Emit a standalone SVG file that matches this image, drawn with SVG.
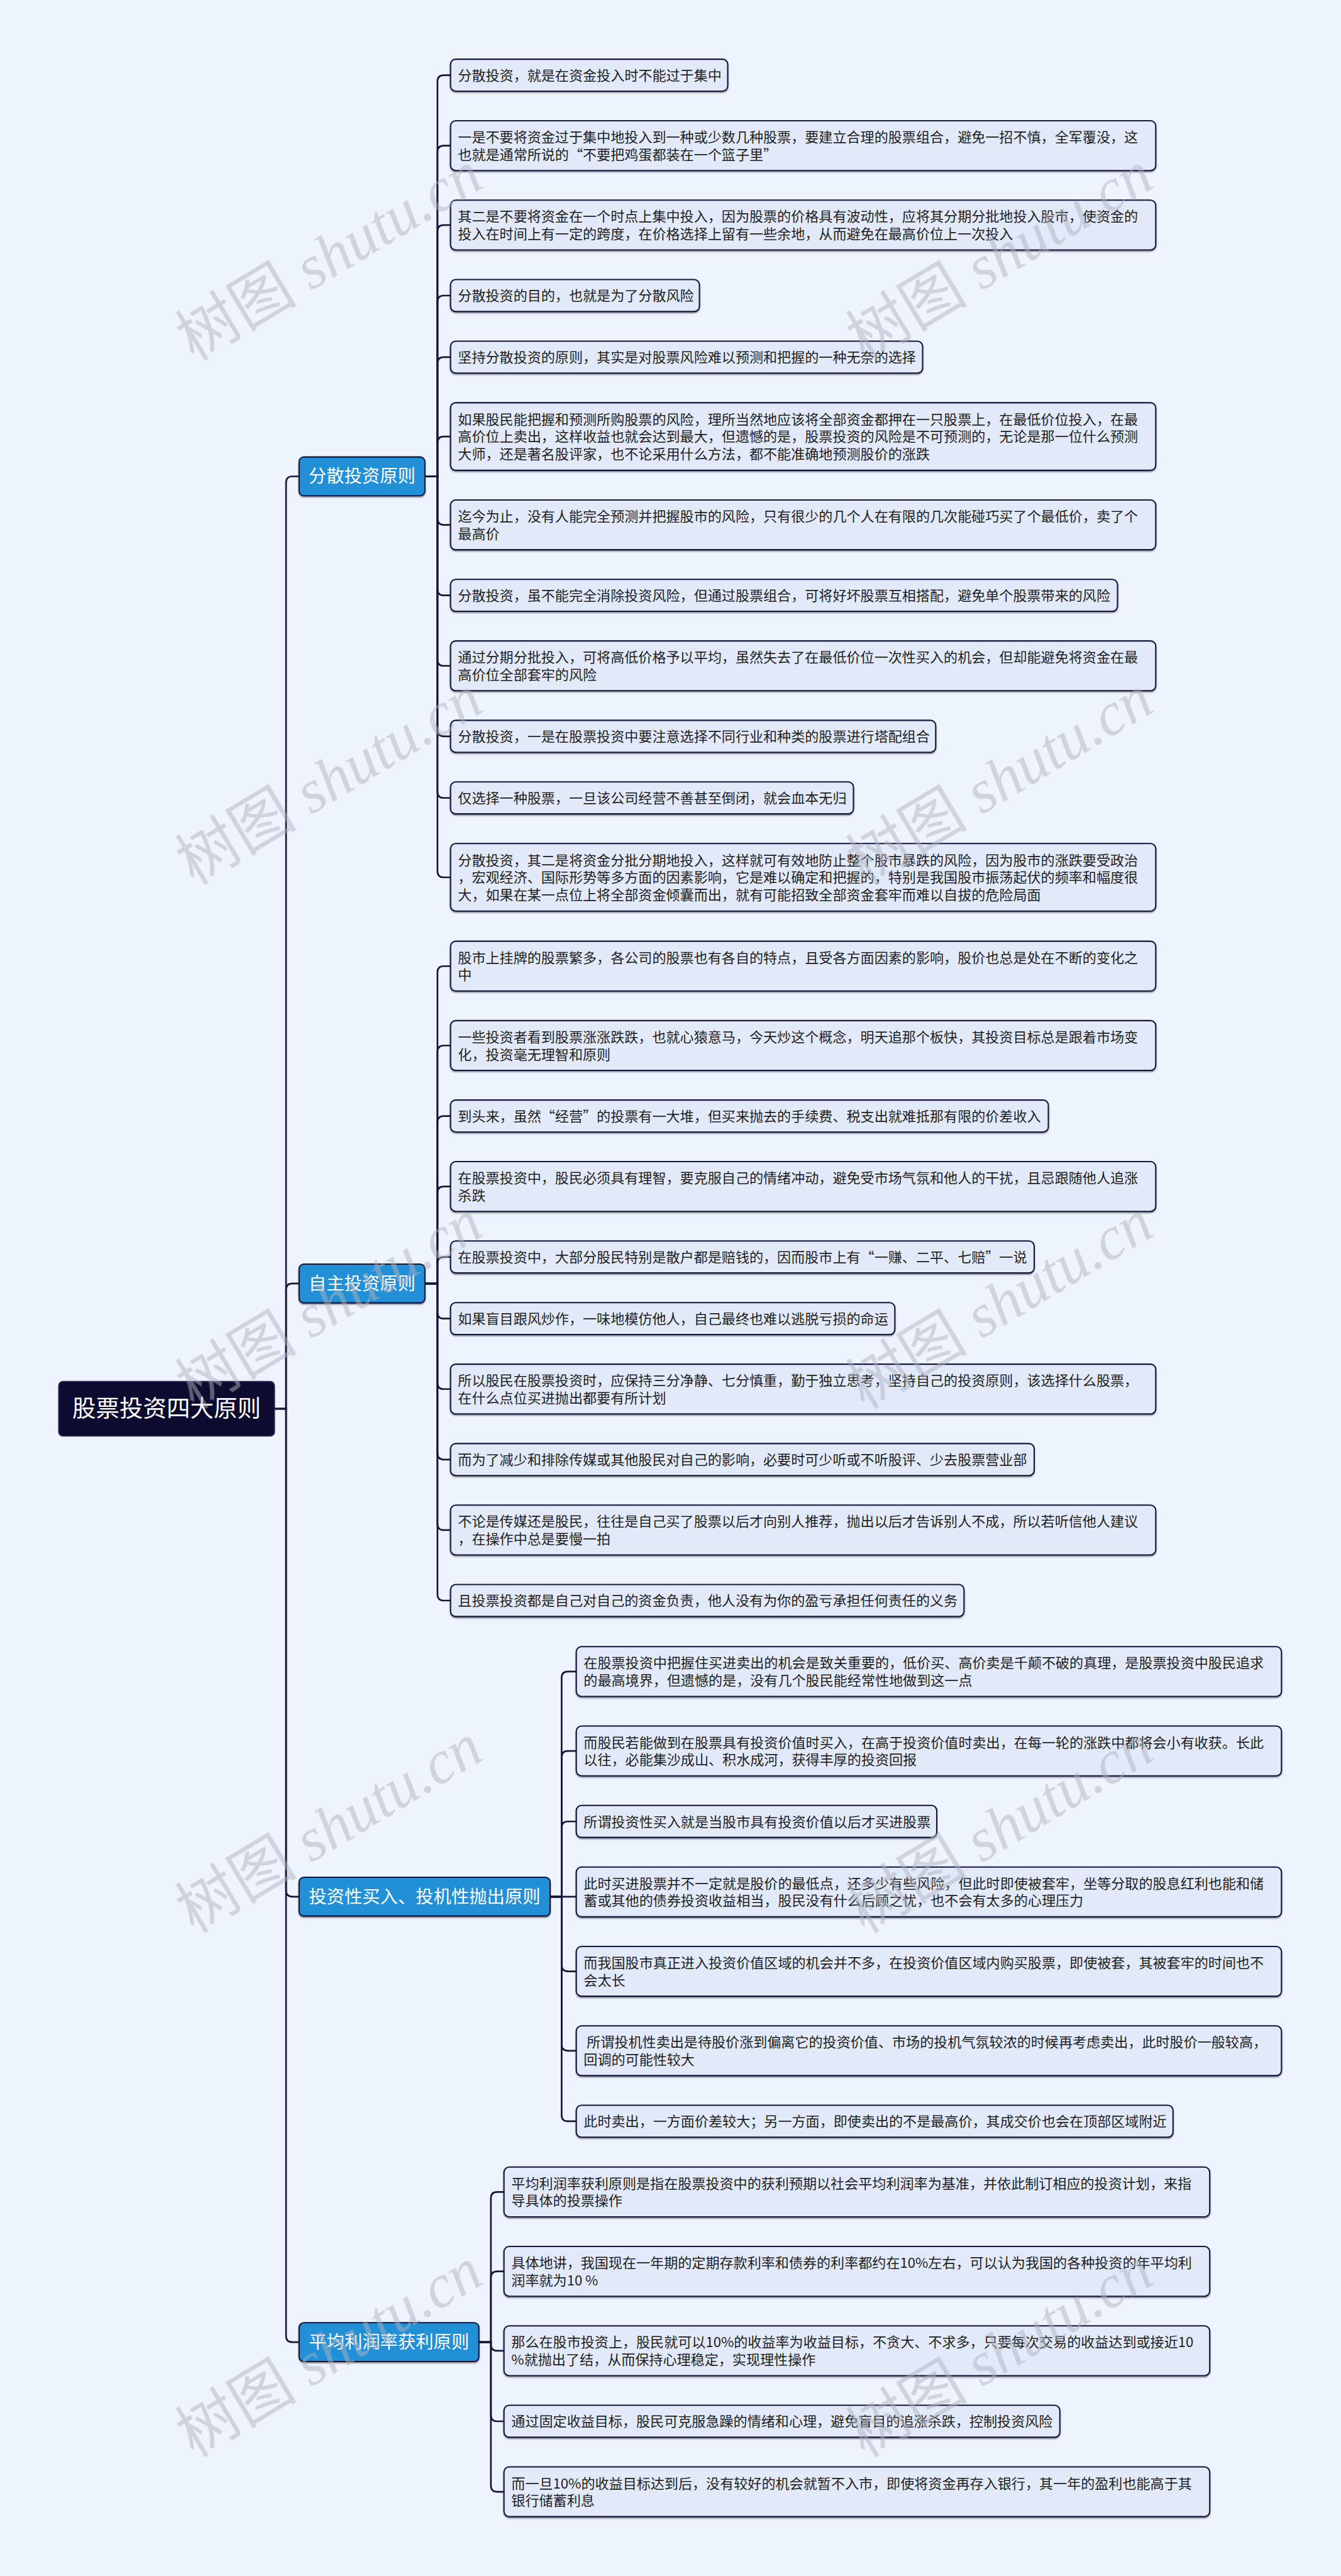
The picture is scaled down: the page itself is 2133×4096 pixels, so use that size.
<svg xmlns="http://www.w3.org/2000/svg" width="2133" height="4096" viewBox="0 0 2133 4096">
<defs>
<style>
.bg{fill:#eef4fd}
.leaf rect{fill:#e2eafa;stroke:#16163a;stroke-width:2.5}
.leaf text{font-family:"Noto Sans CJK SC","Noto Sans",sans-serif;font-size:26.5px;fill:#1e1e1e}
.br rect{fill:#2490d6;stroke:#16163a;stroke-width:2.5}
.br text{font-family:"Noto Sans CJK SC","Noto Sans",sans-serif;font-size:34px;fill:#ffffff;text-anchor:middle}
.root rect{fill:#0e0b30;stroke:#2a2a55;stroke-width:2}
.root text{font-family:"Noto Sans CJK SC","Noto Sans",sans-serif;font-size:45px;fill:#ffffff;text-anchor:middle}
.link{fill:none;stroke:#16163a;stroke-width:3.2}
.wm{fill:#aeb2bd;opacity:0.5;font-size:116px}
.wm .c{font-family:"Noto Sans CJK SC",sans-serif}
.wm .l{font-family:"Liberation Serif",serif;font-style:italic}
</style>
<filter id="sh" x="-5%" y="-20%" width="110%" height="150%">
<feDropShadow dx="0" dy="2" stdDeviation="1" flood-color="#000" flood-opacity="0.45"/>
</filter>
</defs>
<rect class="bg" x="0" y="0" width="2133" height="4096"/>
<g transform="scale(0.833333)">
<g id="connectors">
<path class="link" d="M524 2688 H546 V921 Q546 909 558 909 H571"/>
<path class="link" d="M524 2688 H546 V2461 Q546 2449 558 2449 H571"/>
<path class="link" d="M524 2688 H546 V3607 Q546 3619 558 3619 H571"/>
<path class="link" d="M524 2688 H546 V4457 Q546 4469 558 4469 H571"/>
<path class="link" d="M811 909 H835 V155.5 Q835 143.5 847 143.5 H860"/>
<path class="link" d="M811 909 H835 V290 Q835 278 847 278 H860"/>
<path class="link" d="M811 909 H835 V441.5 Q835 429.5 847 429.5 H860"/>
<path class="link" d="M811 909 H835 V576 Q835 564 847 564 H860"/>
<path class="link" d="M811 909 H835 V693.5 Q835 681.5 847 681.5 H860"/>
<path class="link" d="M811 909 H835 V845 Q835 833 847 833 H860"/>
<path class="link" d="M811 909 H835 V989.5 Q835 1001.5 847 1001.5 H860"/>
<path class="link" d="M811 909 H835 V1124 Q835 1136 847 1136 H860"/>
<path class="link" d="M811 909 H835 V1258.5 Q835 1270.5 847 1270.5 H860"/>
<path class="link" d="M811 909 H835 V1393 Q835 1405 847 1405 H860"/>
<path class="link" d="M811 909 H835 V1510.5 Q835 1522.5 847 1522.5 H860"/>
<path class="link" d="M811 909 H835 V1662 Q835 1674 847 1674 H860"/>
<path class="link" d="M811 2449 H835 V1855.5 Q835 1843.5 847 1843.5 H860"/>
<path class="link" d="M811 2449 H835 V2007 Q835 1995 847 1995 H860"/>
<path class="link" d="M811 2449 H835 V2141.5 Q835 2129.5 847 2129.5 H860"/>
<path class="link" d="M811 2449 H835 V2276 Q835 2264 847 2264 H860"/>
<path class="link" d="M811 2449 H835 V2410.5 Q835 2398.5 847 2398.5 H860"/>
<path class="link" d="M811 2449 H835 V2504 Q835 2516 847 2516 H860"/>
<path class="link" d="M811 2449 H835 V2638.5 Q835 2650.5 847 2650.5 H860"/>
<path class="link" d="M811 2449 H835 V2773 Q835 2785 847 2785 H860"/>
<path class="link" d="M811 2449 H835 V2907.5 Q835 2919.5 847 2919.5 H860"/>
<path class="link" d="M811 2449 H835 V3042 Q835 3054 847 3054 H860"/>
<path class="link" d="M1050 3619 H1072 V3201.5 Q1072 3189.5 1084 3189.5 H1100"/>
<path class="link" d="M1050 3619 H1072 V3353 Q1072 3341 1084 3341 H1100"/>
<path class="link" d="M1050 3619 H1072 V3487.5 Q1072 3475.5 1084 3475.5 H1100"/>
<path class="link" d="M1050 3619 H1100"/>
<path class="link" d="M1050 3619 H1072 V3749.5 Q1072 3761.5 1084 3761.5 H1100"/>
<path class="link" d="M1050 3619 H1072 V3901 Q1072 3913 1084 3913 H1100"/>
<path class="link" d="M1050 3619 H1072 V4035.5 Q1072 4047.5 1084 4047.5 H1100"/>
<path class="link" d="M914 4469 H937 V4194.5 Q937 4182.5 949 4182.5 H962"/>
<path class="link" d="M914 4469 H937 V4346 Q937 4334 949 4334 H962"/>
<path class="link" d="M914 4469 H937 V4473.5 Q937 4485.5 949 4485.5 H962"/>
<path class="link" d="M914 4469 H937 V4608 Q937 4620 949 4620 H962"/>
<path class="link" d="M914 4469 H937 V4742.5 Q937 4754.5 949 4754.5 H962"/>
</g>
<g id="root" class="root"><rect x="112" y="2636" width="412" height="104" rx="8"/><text x="318" y="2704">股票投资四大原则</text></g>
<g id="b1" class="br"><rect x="571" y="872" width="240" height="74" rx="9" filter="url(#sh)"/><text x="691" y="921">分散投资原则</text></g>
<g id="b2" class="br"><rect x="571" y="2412" width="240" height="74" rx="9" filter="url(#sh)"/><text x="691" y="2461">自主投资原则</text></g>
<g id="b3" class="br"><rect x="571" y="3582" width="479" height="74" rx="9" filter="url(#sh)"/><text x="810.5" y="3631">投资性买入、投机性抛出原则</text></g>
<g id="b4" class="br"><rect x="571" y="4432" width="343" height="74" rx="9" filter="url(#sh)"/><text x="742.5" y="4481">平均利润率获利原则</text></g>

<g id="l1-1" class="leaf"><rect x="860" y="113" width="529" height="61" rx="10" filter="url(#sh)"/><text x="874" y="153.5">分散投资，就是在资金投入时不能过于集中</text></g>
<g id="l1-2" class="leaf"><rect x="860" y="230.5" width="1346" height="95" rx="10" filter="url(#sh)"/><text x="874" y="271.5">一是不要将资金过于集中地投入到一种或少数几种股票，要建立合理的股票组合，避免一招不慎，全军覆没，这</text><text x="874" y="304.5">也就是通常所说的“不要把鸡蛋都装在一个篮子里”</text></g>
<g id="l1-3" class="leaf"><rect x="860" y="382" width="1346" height="95" rx="10" filter="url(#sh)"/><text x="874" y="423">其二是不要将资金在一个时点上集中投入，因为股票的价格具有波动性，应将其分期分批地投入股市，使资金的</text><text x="874" y="456">投入在时间上有一定的跨度，在价格选择上留有一些余地，从而避免在最高价位上一次投入</text></g>
<g id="l1-4" class="leaf"><rect x="860" y="533.5" width="475" height="61" rx="10" filter="url(#sh)"/><text x="874" y="574">分散投资的目的，也就是为了分散风险</text></g>
<g id="l1-5" class="leaf"><rect x="860" y="651" width="901" height="61" rx="10" filter="url(#sh)"/><text x="874" y="691.5">坚持分散投资的原则，其实是对股票风险难以预测和把握的一种无奈的选择</text></g>
<g id="l1-6" class="leaf"><rect x="860" y="768.5" width="1346" height="129" rx="10" filter="url(#sh)"/><text x="874" y="810">如果股民能把握和预测所购股票的风险，理所当然地应该将全部资金都押在一只股票上，在最低价位投入，在最</text><text x="874" y="843">高价位上卖出，这样收益也就会达到最大，但遗憾的是，股票投资的风险是不可预测的，无论是那一位什么预测</text><text x="874" y="876">大师，还是著名股评家，也不论采用什么方法，都不能准确地预测股价的涨跌</text></g>
<g id="l1-7" class="leaf"><rect x="860" y="954" width="1346" height="95" rx="10" filter="url(#sh)"/><text x="874" y="995">迄今为止，没有人能完全预测并把握股市的风险，只有很少的几个人在有限的几次能碰巧买了个最低价，卖了个</text><text x="874" y="1028">最高价</text></g>
<g id="l1-8" class="leaf"><rect x="860" y="1105.5" width="1273" height="61" rx="10" filter="url(#sh)"/><text x="874" y="1146">分散投资，虽不能完全消除投资风险，但通过股票组合，可将好坏股票互相搭配，避免单个股票带来的风险</text></g>
<g id="l1-9" class="leaf"><rect x="860" y="1223" width="1346" height="95" rx="10" filter="url(#sh)"/><text x="874" y="1264">通过分期分批投入，可将高低价格予以平均，虽然失去了在最低价位一次性买入的机会，但却能避免将资金在最</text><text x="874" y="1297">高价位全部套牢的风险</text></g>
<g id="l1-10" class="leaf"><rect x="860" y="1374.5" width="926" height="61" rx="10" filter="url(#sh)"/><text x="874" y="1415">分散投资，一是在股票投资中要注意选择不同行业和种类的股票进行塔配组合</text></g>
<g id="l1-11" class="leaf"><rect x="860" y="1492" width="769" height="61" rx="10" filter="url(#sh)"/><text x="874" y="1532.5">仅选择一种股票，一旦该公司经营不善甚至倒闭，就会血本无归</text></g>
<g id="l1-12" class="leaf"><rect x="860" y="1609.5" width="1346" height="129" rx="10" filter="url(#sh)"/><text x="874" y="1651">分散投资，其二是将资金分批分期地投入，这样就可有效地防止整个股市暴跌的风险，因为股市的涨跌要受政治</text><text x="874" y="1684">，宏观经济、国际形势等多方面的因素影响，它是难以确定和把握的，特别是我国股市振荡起伏的频率和幅度很</text><text x="874" y="1717">大，如果在某一点位上将全部资金倾囊而出，就有可能招致全部资金套牢而难以自拔的危险局面</text></g>

<g id="l2-1" class="leaf"><rect x="860" y="1796" width="1346" height="95" rx="10" filter="url(#sh)"/><text x="874" y="1837">股市上挂牌的股票繁多，各公司的股票也有各自的特点，且受各方面因素的影响，股价也总是处在不断的变化之</text><text x="874" y="1870">中</text></g>
<g id="l2-2" class="leaf"><rect x="860" y="1947.5" width="1346" height="95" rx="10" filter="url(#sh)"/><text x="874" y="1988.5">一些投资者看到股票涨涨跌跌，也就心猿意马，今天炒这个概念，明天追那个板快，其投资目标总是跟着市场变</text><text x="874" y="2021.5">化，投资毫无理智和原则</text></g>
<g id="l2-3" class="leaf"><rect x="860" y="2099" width="1141" height="61" rx="10" filter="url(#sh)"/><text x="874" y="2139.5">到头来，虽然“经营”的投票有一大堆，但买来抛去的手续费、税支出就难抵那有限的价差收入</text></g>
<g id="l2-4" class="leaf"><rect x="860" y="2216.5" width="1346" height="95" rx="10" filter="url(#sh)"/><text x="874" y="2257.5">在股票投资中，股民必须具有理智，要克服自己的情绪冲动，避免受市场气氛和他人的干扰，且忌跟随他人追涨</text><text x="874" y="2290.5">杀跌</text></g>
<g id="l2-5" class="leaf"><rect x="860" y="2368" width="1114" height="61" rx="10" filter="url(#sh)"/><text x="874" y="2408.5">在股票投资中，大部分股民特别是散户都是赔钱的，因而股市上有“一赚、二平、七赔”一说</text></g>
<g id="l2-6" class="leaf"><rect x="860" y="2485.5" width="848" height="61" rx="10" filter="url(#sh)"/><text x="874" y="2526">如果盲目跟风炒作，一味地模仿他人，自己最终也难以逃脱亏损的命运</text></g>
<g id="l2-7" class="leaf"><rect x="860" y="2603" width="1346" height="95" rx="10" filter="url(#sh)"/><text x="874" y="2644">所以股民在股票投资时，应保持三分净静、七分慎重，勤于独立思考，坚持自己的投资原则，该选择什么股票，</text><text x="874" y="2677">在什么点位买进抛出都要有所计划</text></g>
<g id="l2-8" class="leaf"><rect x="860" y="2754.5" width="1114" height="61" rx="10" filter="url(#sh)"/><text x="874" y="2795">而为了减少和排除传媒或其他股民对自己的影响，必要时可少听或不听股评、少去股票营业部</text></g>
<g id="l2-9" class="leaf"><rect x="860" y="2872" width="1346" height="95" rx="10" filter="url(#sh)"/><text x="874" y="2913">不论是传媒还是股民，往往是自己买了股票以后才向别人推荐，抛出以后才告诉别人不成，所以若听信他人建议</text><text x="874" y="2946">，在操作中总是要慢一拍</text></g>
<g id="l2-10" class="leaf"><rect x="860" y="3023.5" width="980" height="61" rx="10" filter="url(#sh)"/><text x="874" y="3064">且投票投资都是自己对自己的资金负责，他人没有为你的盈亏承担任何责任的义务</text></g>

<g id="l3-1" class="leaf"><rect x="1100" y="3142" width="1346" height="95" rx="10" filter="url(#sh)"/><text x="1114" y="3183">在股票投资中把握住买进卖出的机会是致关重要的，低价买、高价卖是千颠不破的真理，是股票投资中股民追求</text><text x="1114" y="3216">的最高境界，但遗憾的是，没有几个股民能经常性地做到这一点</text></g>
<g id="l3-2" class="leaf"><rect x="1100" y="3293.5" width="1346" height="95" rx="10" filter="url(#sh)"/><text x="1114" y="3334.5">而股民若能做到在股票具有投资价值时买入，在高于投资价值时卖出，在每一轮的涨跌中都将会小有收获。长此</text><text x="1114" y="3367.5">以往，必能集沙成山、积水成河，获得丰厚的投资回报</text></g>
<g id="l3-3" class="leaf"><rect x="1100" y="3445" width="688" height="61" rx="10" filter="url(#sh)"/><text x="1114" y="3485.5">所谓投资性买入就是当股市具有投资价值以后才买进股票</text></g>
<g id="l3-4" class="leaf"><rect x="1100" y="3562.5" width="1346" height="95" rx="10" filter="url(#sh)"/><text x="1114" y="3603.5">此时买进股票并不一定就是股价的最低点，还多少有些风险，但此时即使被套牢，坐等分取的股息红利也能和储</text><text x="1114" y="3636.5">蓄或其他的债券投资收益相当，股民没有什么后顾之忧，也不会有太多的心理压力</text></g>
<g id="l3-5" class="leaf"><rect x="1100" y="3714" width="1346" height="95" rx="10" filter="url(#sh)"/><text x="1114" y="3755">而我国股市真正进入投资价值区域的机会并不多，在投资价值区域内购买股票，即使被套，其被套牢的时间也不</text><text x="1114" y="3788">会太长</text></g>
<g id="l3-6" class="leaf"><rect x="1100" y="3865.5" width="1346" height="95" rx="10" filter="url(#sh)"/><text x="1114" y="3906.5" xml:space="preserve"> 所谓投机性卖出是待股价涨到偏离它的投资价值、市场的投机气氛较浓的时候再考虑卖出，此时股价一般较高，</text><text x="1114" y="3939.5">回调的可能性较大</text></g>
<g id="l3-7" class="leaf"><rect x="1100" y="4017" width="1139" height="61" rx="10" filter="url(#sh)"/><text x="1114" y="4057.5">此时卖出，一方面价差较大；另一方面，即使卖出的不是最高价，其成交价也会在顶部区域附近</text></g>

<g id="l4-1" class="leaf"><rect x="962" y="4135" width="1347" height="95" rx="10" filter="url(#sh)"/><text x="976" y="4176">平均利润率获利原则是指在股票投资中的获利预期以社会平均利润率为基准，并依此制订相应的投资计划，来指</text><text x="976" y="4209">导具体的投票操作</text></g>
<g id="l4-2" class="leaf"><rect x="962" y="4286.5" width="1347" height="95" rx="10" filter="url(#sh)"/><text x="976" y="4327.5">具体地讲，我国现在一年期的定期存款利率和债券的利率都约在10%左右，可以认为我国的各种投资的年平均利</text><text x="976" y="4360.5">润率就为10 %</text></g>
<g id="l4-3" class="leaf"><rect x="962" y="4438" width="1347" height="95" rx="10" filter="url(#sh)"/><text x="976" y="4479">那么在股市投资上，股民就可以10%的收益率为收益目标，不贪大、不求多，只要每次交易的收益达到或接近10</text><text x="976" y="4512">%就抛出了结，从而保持心理稳定，实现理性操作</text></g>
<g id="l4-4" class="leaf"><rect x="962" y="4589.5" width="1061" height="61" rx="10" filter="url(#sh)"/><text x="976" y="4630">通过固定收益目标，股民可克服急躁的情绪和心理，避免盲目的追涨杀跌，控制投资风险</text></g>
<g id="l4-5" class="leaf"><rect x="962" y="4707" width="1347" height="95" rx="10" filter="url(#sh)"/><text x="976" y="4748">而一旦10%的收益目标达到后，没有较好的机会就暂不入市，即使将资金再存入银行，其一年的盈利也能高于其</text><text x="976" y="4781">银行储蓄利息</text></g>

<g id="watermarks" class="wm">
<text transform="translate(370 690) rotate(-31)"><tspan class="c">树图</tspan><tspan class="l"> shutu.cn</tspan></text>
<text transform="translate(1650 690) rotate(-31)"><tspan class="c">树图</tspan><tspan class="l"> shutu.cn</tspan></text>
<text transform="translate(370 1690) rotate(-31)"><tspan class="c">树图</tspan><tspan class="l"> shutu.cn</tspan></text>
<text transform="translate(1650 1690) rotate(-31)"><tspan class="c">树图</tspan><tspan class="l"> shutu.cn</tspan></text>
<text transform="translate(370 2690) rotate(-31)"><tspan class="c">树图</tspan><tspan class="l"> shutu.cn</tspan></text>
<text transform="translate(1650 2690) rotate(-31)"><tspan class="c">树图</tspan><tspan class="l"> shutu.cn</tspan></text>
<text transform="translate(370 3690) rotate(-31)"><tspan class="c">树图</tspan><tspan class="l"> shutu.cn</tspan></text>
<text transform="translate(1650 3690) rotate(-31)"><tspan class="c">树图</tspan><tspan class="l"> shutu.cn</tspan></text>
<text transform="translate(370 4690) rotate(-31)"><tspan class="c">树图</tspan><tspan class="l"> shutu.cn</tspan></text>
<text transform="translate(1650 4690) rotate(-31)"><tspan class="c">树图</tspan><tspan class="l"> shutu.cn</tspan></text>
</g>
</g>
</svg>
